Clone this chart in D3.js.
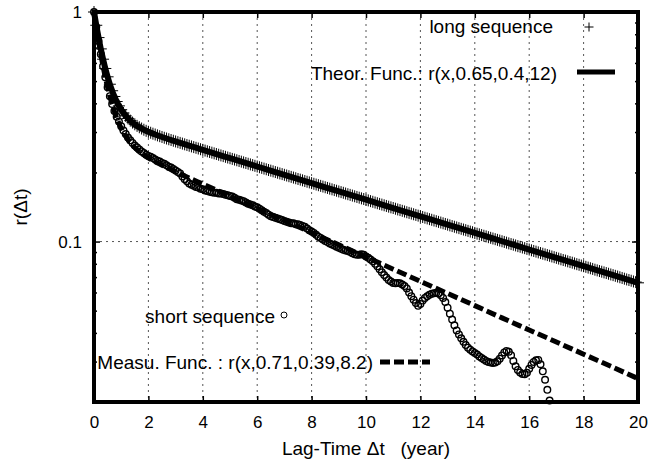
<!DOCTYPE html>
<html>
<head>
<meta charset="utf-8">
<script src="https://cdn.jsdelivr.net/npm/d3@7"></script>
<style>
  body { margin: 0; background: #fff; }
  text { font-family: 'Liberation Sans', Arial, sans-serif; fill: #000; }
</style>
</head>
<body>
<div id="chart"></div>
<script>
// monthly lag steps (year)
var lagStep = 1 / 12;

// long sequence, one value per month, lag 0 .. 20 years
var longSeq = [
    1.0000, 0.8754, 0.7737, 0.6907, 0.6229, 0.5675, 0.5219, 0.4846, 0.4539, 0.4285, 0.4074, 0.3900,
    0.3754, 0.3631, 0.3528, 0.3440, 0.3364, 0.3298, 0.3242, 0.3191, 0.3147, 0.3107, 0.3070, 0.3037,
    0.3007, 0.2978, 0.2951, 0.2926, 0.2901, 0.2878, 0.2855, 0.2832, 0.2811, 0.2790, 0.2769, 0.2749,
    0.2729, 0.2710, 0.2690, 0.2671, 0.2652, 0.2633, 0.2615, 0.2597, 0.2579, 0.2561, 0.2543, 0.2525,
    0.2508, 0.2491, 0.2473, 0.2456, 0.2439, 0.2422, 0.2406, 0.2389, 0.2372, 0.2356, 0.2340, 0.2323,
    0.2307, 0.2291, 0.2276, 0.2260, 0.2244, 0.2229, 0.2213, 0.2198, 0.2183, 0.2168, 0.2153, 0.2138,
    0.2123, 0.2108, 0.2094, 0.2079, 0.2065, 0.2050, 0.2036, 0.2022, 0.2008, 0.1994, 0.1980, 0.1967,
    0.1953, 0.1940, 0.1926, 0.1913, 0.1900, 0.1887, 0.1873, 0.1861, 0.1848, 0.1835, 0.1822, 0.1810,
    0.1797, 0.1785, 0.1772, 0.1760, 0.1748, 0.1736, 0.1724, 0.1712, 0.1700, 0.1688, 0.1676, 0.1665,
    0.1653, 0.1642, 0.1631, 0.1619, 0.1608, 0.1597, 0.1586, 0.1575, 0.1564, 0.1553, 0.1542, 0.1532,
    0.1521, 0.1511, 0.1500, 0.1490, 0.1479, 0.1469, 0.1459, 0.1449, 0.1439, 0.1429, 0.1419, 0.1409,
    0.1400, 0.1390, 0.1380, 0.1371, 0.1361, 0.1352, 0.1342, 0.1333, 0.1324, 0.1315, 0.1306, 0.1297,
    0.1288, 0.1279, 0.1270, 0.1261, 0.1252, 0.1244, 0.1235, 0.1227, 0.1218, 0.1210, 0.1201, 0.1193,
    0.1185, 0.1176, 0.1168, 0.1160, 0.1152, 0.1144, 0.1136, 0.1128, 0.1121, 0.1113, 0.1105, 0.1098,
    0.1090, 0.1082, 0.1075, 0.1067, 0.1060, 0.1053, 0.1045, 0.1038, 0.1031, 0.1024, 0.1017, 0.1010,
    0.1003, 0.0996, 0.0989, 0.0982, 0.0975, 0.0969, 0.0962, 0.0955, 0.0949, 0.0942, 0.0936, 0.0929,
    0.0923, 0.0916, 0.0910, 0.0904, 0.0897, 0.0891, 0.0885, 0.0879, 0.0873, 0.0867, 0.0861, 0.0855,
    0.0849, 0.0843, 0.0837, 0.0831, 0.0826, 0.0820, 0.0814, 0.0809, 0.0803, 0.0797, 0.0792, 0.0786,
    0.0781, 0.0776, 0.0770, 0.0765, 0.0760, 0.0754, 0.0749, 0.0744, 0.0739, 0.0734, 0.0729, 0.0724,
    0.0719, 0.0714, 0.0709, 0.0704, 0.0699, 0.0694, 0.0689, 0.0684, 0.0680, 0.0675, 0.0670, 0.0666,
    0.0661
];

// short sequence, one value per month, lag 0 .. 16.75 years
var shortSeq = [
    1.000, 0.861, 0.747, 0.655, 0.580, 0.520, 0.470, 0.430, 0.397, 0.370, 0.350, 0.333,
    0.318, 0.305, 0.294, 0.284, 0.276, 0.269, 0.262, 0.257, 0.252, 0.247, 0.243, 0.239,
    0.236, 0.234, 0.231, 0.228, 0.225, 0.223, 0.220, 0.218, 0.215, 0.212, 0.210, 0.207,
    0.204, 0.201, 0.198, 0.192, 0.187, 0.183, 0.179, 0.177, 0.175, 0.173, 0.172, 0.170,
    0.169, 0.167, 0.166, 0.165, 0.164, 0.163, 0.163, 0.162, 0.162, 0.161, 0.160, 0.159,
    0.158, 0.157, 0.155, 0.153, 0.152, 0.151, 0.150, 0.148, 0.146, 0.145, 0.144, 0.142,
    0.141, 0.139, 0.137, 0.135, 0.133, 0.131, 0.129, 0.128, 0.127, 0.126, 0.125, 0.124,
    0.123, 0.122, 0.121, 0.120, 0.120, 0.119, 0.119, 0.118, 0.117, 0.116, 0.114, 0.112,
    0.1105, 0.109, 0.107, 0.105, 0.1035, 0.102, 0.1005, 0.0995, 0.098, 0.097, 0.096, 0.095,
    0.094, 0.093, 0.092, 0.0915, 0.091, 0.090, 0.089, 0.088, 0.0875, 0.0875, 0.088, 0.0875,
    0.086, 0.085, 0.0835, 0.082, 0.080, 0.078, 0.0757, 0.0735, 0.0715, 0.0697, 0.068, 0.067,
    0.066, 0.0658, 0.066, 0.0658, 0.065, 0.064, 0.0625, 0.060, 0.0578, 0.0558, 0.054, 0.0525,
    0.0535, 0.0553, 0.0568, 0.0578, 0.0586, 0.0592, 0.0596, 0.0598, 0.0594, 0.0584, 0.0568, 0.0545,
    0.0515, 0.0485, 0.0457, 0.0432, 0.041, 0.0394, 0.0379, 0.0366, 0.0354, 0.0345, 0.0338, 0.0332,
    0.0327, 0.0322, 0.0316, 0.0311, 0.0306, 0.0302, 0.0299, 0.0297, 0.0296, 0.0297, 0.0301, 0.0309,
    0.0319, 0.0329, 0.0334, 0.0331, 0.0320, 0.0302, 0.0286, 0.0276, 0.0269, 0.0265, 0.0264, 0.0268,
    0.0279, 0.0290, 0.0299, 0.0304, 0.0305, 0.0292, 0.0272, 0.0250, 0.0226, 0.0203
];

// theoretical function r(x,0.65,0.4,12)
var theorX = [0, 0.1, 0.2, 0.3, 0.4, 0.5, 0.6, 0.8, 1, 1.25, 1.5, 2, 2.5, 3,
    4, 5, 6, 7, 8, 9, 10, 11, 12, 13, 14, 15, 16, 17, 18, 19, 20];
var theorY = [1, 0.8533, 0.7384, 0.6484, 0.5776, 0.5219, 0.4779, 0.4154, 0.3754, 0.3439, 0.3242, 0.3007, 0.2855, 0.2729,
    0.2508, 0.2307, 0.2123, 0.1953, 0.1797, 0.1653, 0.1521, 0.1400, 0.1288, 0.1185, 0.1090, 0.1003, 0.0923, 0.0849, 0.0781, 0.0719, 0.0661];

// measured function r(x,0.71,0.39,8.2)
var measuX = theorX;
var measuY = [1, 0.8359, 0.7081, 0.6086, 0.5308, 0.4698, 0.4220, 0.3544, 0.3113, 0.2778, 0.2567, 0.2314, 0.2150, 0.2015,
    0.1780, 0.1576, 0.1395, 0.1235, 0.1093, 0.0968, 0.0856, 0.0758, 0.0671, 0.0594, 0.0526, 0.0465, 0.0412, 0.0365, 0.0323, 0.0286, 0.0253];

var xTicks = [0, 2, 4, 6, 8, 10, 12, 14, 16, 18, 20];
var xGrid = [2, 4, 6, 8, 10, 12, 14, 16, 18];
var yTicks = [1, 0.1];
var yMinorTicks = [0.9, 0.8, 0.7, 0.6, 0.5, 0.4, 0.3, 0.2, 0.09, 0.08, 0.07, 0.06, 0.05, 0.04, 0.03];

var margin = { top: 12, left: 94, bottom: 62, right: 12 },
    width = 650 - margin.left - margin.right,
    height = 464 - margin.top - margin.bottom;

var svg = d3.select('#chart').append('svg')
    .attr('width', width + margin.left + margin.right)
    .attr('height', height + margin.top + margin.bottom)
    .append('g')
    .attr('transform', 'translate(' + margin.left + ', ' + margin.top + ')');

var x = d3.scaleLinear().domain([0, 20]).range([0, width]);
var y = d3.scaleLog().domain([0.02, 1]).range([height, 0]);

// grid
svg.selectAll('.vgrid')
    .data(xGrid)
    .enter().append('line')
    .attr('x1', d => x(d)).attr('x2', d => x(d))
    .attr('y1', 0).attr('y2', height)
    .attr('stroke', '#555').attr('stroke-width', 1)
    .attr('stroke-dasharray', '2,4');

svg.append('line')
    .attr('x1', 0).attr('x2', width)
    .attr('y1', y(0.1)).attr('y2', y(0.1))
    .attr('stroke', '#555').attr('stroke-width', 1)
    .attr('stroke-dasharray', '2,4');

// axes (ticks point inwards)
function styleAxis(g) {
    g.select('.domain').remove();
    g.selectAll('.tick line').attr('stroke', '#000').attr('stroke-width', 1.5);
    g.selectAll('.tick text').style('font-size', '17px').attr('fill', '#000');
}

svg.append('g')
    .attr('transform', 'translate(0,' + height + ')')
    .call(d3.axisBottom(x).tickValues(xTicks).tickSize(-6).tickPadding(14).tickFormat(d3.format('d')))
    .call(styleAxis);

svg.append('g')
    .call(d3.axisTop(x).tickValues(xTicks).tickSize(-6).tickFormat(''))
    .call(styleAxis);

svg.append('g')
    .call(d3.axisLeft(y).tickValues(yTicks).tickSize(-6).tickPadding(12).tickFormat(d3.format('~g')))
    .call(styleAxis);

svg.append('g')
    .call(d3.axisLeft(y).tickValues(yMinorTicks).tickSize(-3).tickFormat(''))
    .call(styleAxis);

svg.append('g')
    .attr('transform', 'translate(' + width + ',0)')
    .call(d3.axisRight(y).tickValues(yTicks).tickSize(-6).tickFormat(''))
    .call(styleAxis);

svg.append('g')
    .attr('transform', 'translate(' + width + ',0)')
    .call(d3.axisRight(y).tickValues(yMinorTicks).tickSize(-3).tickFormat(''))
    .call(styleAxis);

// long sequence (+)
var plus = 'M-6,0H6M0,-6V6';
svg.selectAll('.longpt')
    .data(longSeq)
    .enter().append('path')
    .attr('class', 'longpt')
    .attr('d', plus)
    .attr('transform', (d, i) => 'translate(' + x(i * lagStep) + ',' + y(d) + ')')
    .attr('stroke', '#000').attr('stroke-width', 1).attr('fill', 'none');

// theoretical function
var funcLine = d3.line()
    .x(d => x(d[0])).y(d => y(d[1]))
    .curve(d3.curveMonotoneX);

svg.append('path')
    .datum(theorX.map((d, i) => [d, theorY[i]]))
    .attr('d', funcLine)
    .attr('fill', 'none').attr('stroke', '#000').attr('stroke-width', 6);

// measured function
svg.append('path')
    .datum(measuX.map((d, i) => [d, measuY[i]]))
    .attr('d', funcLine)
    .attr('fill', 'none').attr('stroke', '#000').attr('stroke-width', 5)
    .attr('stroke-dasharray', '10,4');

// short sequence (o)
svg.selectAll('.shortpt')
    .data(shortSeq)
    .enter().append('circle')
    .attr('class', 'shortpt')
    .attr('cx', (d, i) => x(i * lagStep))
    .attr('cy', d => y(d))
    .attr('r', 3.3)
    .attr('stroke', '#000').attr('stroke-width', 1.4).attr('fill', 'none');

// frame
svg.append('rect')
    .attr('width', width).attr('height', height)
    .attr('fill', 'none').attr('stroke', '#000').attr('stroke-width', 4);

// keys
var keyFont = '19px';
svg.append('text')
    .attr('x', 459).attr('y', 14).attr('dy', '0.35em')
    .attr('text-anchor', 'end').style('font-size', keyFont)
    .text('long sequence');
svg.append('path')
    .attr('d', 'M-4.5,0H4.5M0,-4.5V4.5')
    .attr('transform', 'translate(495,15)')
    .attr('stroke', '#000').attr('stroke-width', 1);

svg.append('text')
    .attr('x', 463).attr('y', 61).attr('dy', '0.35em')
    .attr('text-anchor', 'end').style('font-size', keyFont)
    .text('Theor. Func.: r(x,0.65,0.4,12)');
svg.append('line')
    .attr('x1', 483).attr('x2', 521).attr('y1', 60).attr('y2', 60)
    .attr('stroke', '#000').attr('stroke-width', 5);

svg.append('text')
    .attr('x', 181).attr('y', 304).attr('dy', '0.35em')
    .attr('text-anchor', 'end').style('font-size', keyFont)
    .text('short sequence');
svg.append('circle')
    .attr('cx', 190).attr('cy', 303).attr('r', 3)
    .attr('stroke', '#000').attr('stroke-width', 1).attr('fill', 'none');

svg.append('text')
    .attr('x', 279).attr('y', 350).attr('dy', '0.35em')
    .attr('text-anchor', 'end').style('font-size', keyFont)
    .text('Measu. Func. : r(x,0.71,0.39,8.2)');
svg.append('line')
    .attr('x1', 286).attr('x2', 336).attr('y1', 350).attr('y2', 350)
    .attr('stroke', '#000').attr('stroke-width', 5)
    .attr('stroke-dasharray', '10,4');

// axis labels
svg.append('text')
    .attr('x', width / 2).attr('y', height + 53)
    .attr('text-anchor', 'middle')
    .style('font-size', '19px').style('white-space', 'pre')
    .text('Lag-Time \u0394t   (year)');

svg.append('text')
    .attr('x', -height / 2).attr('y', -margin.left + 27)
    .attr('transform', 'rotate(-90)')
    .attr('text-anchor', 'middle')
    .style('font-size', '19px')
    .text('r(\u0394t)');
</script>
</body>
</html>
